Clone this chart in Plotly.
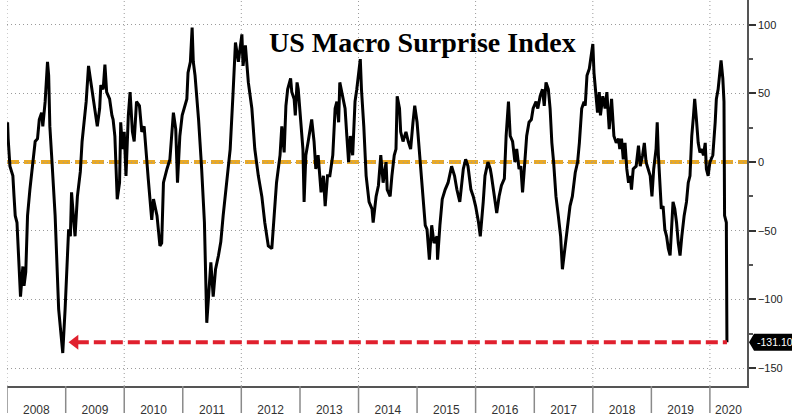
import numpy as np
import pandas as pd
import plotly.graph_objects as go

# ---- data (decimal year, index value) ----
t_years = [
    2008.01, 2008.02, 2008.05, 2008.10, 2008.12, 2008.14, 2008.17, 2008.19, 2008.23, 2008.27,
    2008.29, 2008.32, 2008.35, 2008.39, 2008.45, 2008.48, 2008.52, 2008.55, 2008.59, 2008.61,
    2008.65, 2008.69, 2008.71, 2008.72, 2008.73, 2008.76, 2008.82, 2008.88, 2008.90, 2008.95,
    2008.99, 2009.05, 2009.08, 2009.10, 2009.14, 2009.16, 2009.20, 2009.25, 2009.28, 2009.31,
    2009.35, 2009.39, 2009.42, 2009.46, 2009.50, 2009.54, 2009.58, 2009.60, 2009.64, 2009.67,
    2009.70, 2009.75, 2009.79, 2009.81, 2009.84, 2009.86, 2009.88, 2009.92, 2009.94, 2009.97,
    2010.00, 2010.03, 2010.07, 2010.10, 2010.14, 2010.17, 2010.21, 2010.26, 2010.30, 2010.34,
    2010.37, 2010.41, 2010.47, 2010.50, 2010.56, 2010.61, 2010.64, 2010.67, 2010.73, 2010.78,
    2010.84, 2010.88, 2010.91, 2010.95, 2010.99, 2011.03, 2011.07, 2011.09, 2011.13, 2011.16,
    2011.18, 2011.21, 2011.27, 2011.32, 2011.37, 2011.41, 2011.44, 2011.48, 2011.52, 2011.56,
    2011.61, 2011.65, 2011.69, 2011.75, 2011.81, 2011.86, 2011.90, 2011.95, 2012.01, 2012.03,
    2012.07, 2012.12, 2012.18, 2012.23, 2012.29, 2012.35, 2012.40, 2012.46, 2012.52, 2012.56,
    2012.60, 2012.66, 2012.69, 2012.73, 2012.76, 2012.79, 2012.84, 2012.86, 2012.90, 2012.92,
    2012.95, 2012.97, 2013.01, 2013.05, 2013.07, 2013.10, 2013.14, 2013.20, 2013.24, 2013.27,
    2013.31, 2013.36, 2013.40, 2013.43, 2013.47, 2013.51, 2013.56, 2013.60, 2013.63, 2013.66,
    2013.68, 2013.73, 2013.77, 2013.80, 2013.83, 2013.86, 2013.90, 2013.94, 2013.97, 2014.03,
    2014.05, 2014.09, 2014.13, 2014.18, 2014.23, 2014.25, 2014.30, 2014.34, 2014.38, 2014.42,
    2014.47, 2014.49, 2014.54, 2014.57, 2014.61, 2014.64, 2014.66, 2014.70, 2014.72, 2014.76,
    2014.81, 2014.85, 2014.89, 2014.93, 2014.96, 2015.00, 2015.05, 2015.10, 2015.14, 2015.17,
    2015.21, 2015.25, 2015.29, 2015.34, 2015.35, 2015.39, 2015.43, 2015.48, 2015.53, 2015.59,
    2015.64, 2015.68, 2015.73, 2015.79, 2015.83, 2015.87, 2015.92, 2015.96, 2016.00, 2016.05,
    2016.08, 2016.13, 2016.16, 2016.21, 2016.25, 2016.27, 2016.32, 2016.36, 2016.40, 2016.44,
    2016.49, 2016.52, 2016.56, 2016.59, 2016.63, 2016.67, 2016.70, 2016.74, 2016.77, 2016.80,
    2016.83, 2016.87, 2016.91, 2016.95, 2016.98, 2017.03, 2017.06, 2017.10, 2017.14, 2017.17,
    2017.20, 2017.24, 2017.27, 2017.30, 2017.33, 2017.37, 2017.41, 2017.45, 2017.48, 2017.53,
    2017.57, 2017.61, 2017.65, 2017.70, 2017.74, 2017.77, 2017.81, 2017.85, 2017.87, 2017.90,
    2017.94, 2017.98, 2018.00, 2018.02, 2018.05, 2018.08, 2018.11, 2018.13, 2018.17, 2018.21,
    2018.24, 2018.28, 2018.32, 2018.36, 2018.40, 2018.44, 2018.46, 2018.49, 2018.52, 2018.55,
    2018.58, 2018.61, 2018.64, 2018.66, 2018.69, 2018.74, 2018.78, 2018.81, 2018.85, 2018.88,
    2018.91, 2018.95, 2018.98, 2019.01, 2019.04, 2019.08, 2019.10, 2019.12, 2019.15, 2019.17,
    2019.20, 2019.23, 2019.26, 2019.29, 2019.32, 2019.35, 2019.37, 2019.40, 2019.43, 2019.46,
    2019.49, 2019.52, 2019.56, 2019.60, 2019.63, 2019.66, 2019.69, 2019.72, 2019.74, 2019.77,
    2019.80, 2019.83, 2019.86, 2019.89, 2019.92, 2019.94, 2019.97, 2020.00, 2020.05, 2020.09,
    2020.11, 2020.14, 2020.17, 2020.19, 2020.22, 2020.24, 2020.25, 2020.28, 2020.29,
]
surprise = [
    29, 17, -3, -10, -25, -39, -44, -63, -98, -76,
    -90, -80, -39, -20, 5, 15, 17, 31, 36, 26,
    44, 73, 63, 48, 26, 5, -39, -107, -117, -139,
    -107, -49, -54, -22, -44, -54, -25, -7, 15, 29,
    44, 70, 61, 48, 36, 26, 39, 56, 53, 71,
    51, 46, 34, 31, 19, -5, -27, -15, 29, 9.5,
    22, -10, 34, 51, 22, 15, 44, 41, 22, 26,
    12, -12, -42, -27, -39, -61, -59, -15, -5, 2,
    36, 24, -15, 19, 34, 41, 46, 65, 73, 98,
    73, 63, 31, -3, -44, -117, -95, -73, -98, -78,
    -68, -58, -39, -15, 9.5, 51, 87, 73, 93, 70,
    85, 58, 39, 9.5, -10, -25, -44, -61, -63, -39,
    -15, 5, 26, 7, 41, 53, 61, 51, 46, 34,
    58, 53, 29, 9.5, -29, 5, 15, 31, 15, -5,
    5, -22, -10, -32, -10, -10, 5, 39, 44, 29,
    58, 48, 39, 19, 0, 19, 5, 44, 53, 75,
    53, 26, -10, -29, -34, -44, -25, -17, 5, -15,
    0, -20, -25, -10, 5, 9.5, 48, 39, 22, 15,
    22, 15, 9.5, 29, 41, 29, 0, -25, -46, -49,
    -71, -46, -59, -54, -71, -46, -27, -20, -15, -3,
    -10, -20, -29, -5, 2, -3, -20, -25, -32, -44,
    -54, -29, -10, 0, -5, -10, -25, -37, -25, -17,
    -12, 19, 44, 19, 15, 0, 9.5, -5, -3, -22,
    -5, 19, 29, 31, 39, 44, 39, 48, 53, 41,
    58, 53, 39, 14, 0, -25, -39, -54, -78, -59,
    -44, -32, -25, -7.5, 0, 14, 39, 44, 41, 63,
    68, 78, 86, 65, 51, 36, 51, 34, 48, 39,
    51, 24, 46, 19, 14, 17, 9.5, 17, 2, 14,
    -5, -15, -10, -20, -5, -3, 12, -3, 5, 14,
    0, -5, -10, -25, -5, 9.5, 29, 5, -25, -34,
    -32, -49, -54, -63, -68, -49, -29, -34, -44, -59,
    -68, -54, -39, -29, -15, -10, 19, 34, 46, 31,
    14, 7, 9.5, 5, 14, -5, -10, 0, 5, 29,
    46, 53, 63, 74, 61, 44, -39, -44, -131.10,
]

year_ticks = list(range(2008, 2021))      # year boundaries (tick marks)
year_labels = [str(y) for y in year_ticks]
grid_years = list(range(2008, 2021, 2))   # dotted vertical grid
last_value = -131.10
arrow_to_year = 2009.07                    # arrow points back to the 2008 low
x_end_year = 2020.632
y_min, y_max = -163, 118


def to_date(t):
    y = int(np.floor(t))
    start = pd.Timestamp(year=y, month=1, day=1)
    end = pd.Timestamp(year=y + 1, month=1, day=1)
    return start + (end - start) * (t - y)


dates = [to_date(t) for t in t_years]

# label positions: middle of each year, last one middle of the visible part of 2020
label_pos = [to_date(y + 0.5) for y in year_ticks[:-1]] + [to_date((year_ticks[-1] + x_end_year) / 2)]

fig = go.Figure()

# zero line (orange dashed) below data
fig.add_shape(type="line", xref="paper", x0=0, x1=1, yref="y", y0=0, y1=0,
              line=dict(color="#E8A928", width=4, dash="12px,5px"), layer="below")

# dotted vertical grid at every other year
for gy in grid_years:
    fig.add_shape(type="line", xref="x", x0=to_date(gy), x1=to_date(gy),
                  yref="paper", y0=0, y1=1,
                  line=dict(color="#9a9a9a", width=1, dash="1px,3px"), layer="below")

# year boundary tick marks below the axis
for yt in year_ticks:
    fig.add_shape(type="line", xref="x", x0=to_date(yt), x1=to_date(yt),
                  yref="paper", y0=0, y1=-27 / 386,
                  line=dict(color="#8a8a8a", width=1.5))

fig.add_trace(go.Scatter(x=dates, y=surprise, mode="lines",
                         line=dict(color="black", width=3), hoverinfo="skip",
                         showlegend=False))

# red dashed arrow from latest value back to the 2008 low
fig.add_trace(go.Scatter(x=[to_date(arrow_to_year + 0.12), dates[-1]],
                         y=[last_value, last_value], mode="lines",
                         line=dict(color="#E0202E", width=4, dash="12px,5px"),
                         hoverinfo="skip", showlegend=False))
fig.add_trace(go.Scatter(x=[to_date(arrow_to_year + 0.09)], y=[last_value], mode="markers",
                         marker=dict(symbol="triangle-left", size=13, color="#E0202E"),
                         hoverinfo="skip", showlegend=False, cliponaxis=False))

# latest-value label box on the right axis
yp = (last_value - y_min) / (y_max - y_min)
fig.add_shape(type="path", xref="paper", yref="paper", xsizemode="pixel", ysizemode="pixel",
              xanchor=1, yanchor=yp, path="M 2 0 L 7 8.5 L 45 8.5 L 45 -8.5 L 7 -8.5 Z",
              fillcolor="black", line=dict(width=0), layer="above")
fig.add_annotation(xref="paper", yref="paper", x=1, y=yp, xanchor="left", yanchor="middle",
                   xshift=8, text=f"{last_value:.2f}", showarrow=False,
                   font=dict(family="Liberation Sans", size=10.5, color="white"))

# title
fig.add_annotation(xref="paper", yref="paper", x=0.562, y=0.889, xanchor="center",
                   yanchor="middle", text="US Macro Surprise Index", showarrow=False,
                   font=dict(family="Liberation Serif", size=28, color="black", weight="bold"))

fig.update_layout(
    width=800, height=417,
    margin=dict(l=7, r=53, t=0, b=31, autoexpand=False),
    paper_bgcolor="white", plot_bgcolor="white",
    showlegend=False,
    xaxis=dict(
        type="date", range=[to_date(2008.0), to_date(x_end_year)],
        tickmode="array", tickvals=label_pos, ticktext=year_labels,
        ticks="", showgrid=False, zeroline=False, automargin=False,
        showline=True, linecolor="#555555", linewidth=1.5,
        tickfont=dict(family="Liberation Sans", size=12, color="#333333"),
        ticklabelstandoff=12,
    ),
    yaxis=dict(
        side="right", range=[y_min, y_max], dtick=50, tick0=0, automargin=False,
        ticks="outside", ticklen=7, tickwidth=2, tickcolor="#333333",
        showline=True, linecolor="#555555", linewidth=1.5,
        showgrid=True, gridcolor="#9a9a9a", gridwidth=1, griddash="1px,3px",
        zeroline=False,
        tickfont=dict(family="Liberation Sans", size=11, color="#222222"),
        minor=dict(dtick=25, ticks="outside", ticklen=4, tickcolor="#555555", showgrid=False),
    ),
)

fig.write_html("out.html", config={"displayModeBar": False},
               post_script="document.body.style.margin='0';document.body.style.overflow='hidden';")
